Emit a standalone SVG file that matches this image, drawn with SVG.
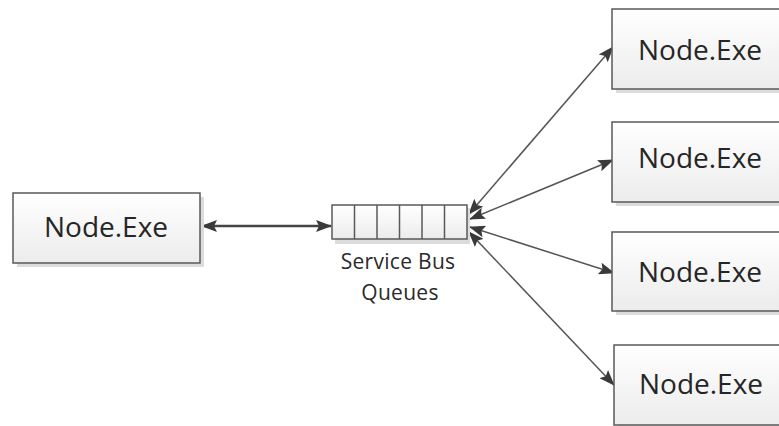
<svg xmlns="http://www.w3.org/2000/svg" width="779" height="426" viewBox="0 0 779 426">
<defs>
<linearGradient id="g" x1="0" y1="0" x2="0" y2="1">
<stop offset="0" stop-color="#ffffff"/>
<stop offset="1" stop-color="#ececec"/>
</linearGradient>
<marker id="ah" viewBox="0 0 16 12" refX="15" refY="6" markerWidth="16" markerHeight="12" markerUnits="userSpaceOnUse" orient="auto-start-reverse">
<path d="M0,0 L16,6 L0,12 L3,6 Z" fill="#3a3a3a"/>
</marker>
</defs>
<style>
.box{fill:url(#g);stroke:#595959;stroke-width:1.5}
.sh{fill:#dcdcdc}
.t{font-family:"Open Sans","Noto Sans",sans-serif;font-size:28px;fill:#262626;text-anchor:middle}
.lbl{font-family:"Open Sans","Noto Sans",sans-serif;font-size:21px;fill:#2a2a2a;text-anchor:middle;letter-spacing:0.3px}
.c{fill:none;stroke:#555;stroke-width:1.5;marker-start:url(#ah);marker-end:url(#ah)}
.cell{stroke:#595959;stroke-width:1.5}
</style>
<rect width="779" height="426" fill="#fff"/>
<g id="connectors">
<line class="c" x1="202" y1="226" x2="331" y2="226" style="stroke-width:2.4;stroke:#454545"/>
<line class="c" x1="469" y1="214" x2="613" y2="47"/>
<line class="c" x1="470" y1="219" x2="613" y2="160"/>
<line class="c" x1="470" y1="227" x2="614" y2="273"/>
<line class="c" x1="469" y1="232" x2="614" y2="385"/>
</g>
<g id="node-left">
<rect class="sh" x="17" y="197" width="187" height="70"/>
<rect class="box" x="13" y="193" width="187" height="70"/>
<text class="t" x="106" y="237">Node.Exe</text>
</g>
<g id="queue">
<rect class="sh" x="335" y="208" width="135" height="36"/>
<rect class="box" x="332" y="205" width="135" height="34"/>
<line class="cell" x1="354.5" y1="205" x2="354.5" y2="239"/>
<line class="cell" x1="377" y1="205" x2="377" y2="239"/>
<line class="cell" x1="399.5" y1="205" x2="399.5" y2="239"/>
<line class="cell" x1="422" y1="205" x2="422" y2="239"/>
<line class="cell" x1="444.5" y1="205" x2="444.5" y2="239"/>
<text class="lbl" x="398" y="269">Service Bus</text>
<text class="lbl" x="400" y="300">Queues</text>
</g>
<g id="node-r1">
<rect class="sh" x="616" y="13" width="180" height="80"/>
<rect class="box" x="612" y="9" width="180" height="80"/>
<text class="t" x="700" y="60">Node.Exe</text>
</g>
<g id="node-r2">
<rect class="sh" x="616" y="126" width="180" height="80"/>
<rect class="box" x="612" y="122" width="180" height="80"/>
<text class="t" x="700" y="168">Node.Exe</text>
</g>
<g id="node-r3">
<rect class="sh" x="616" y="236" width="180" height="79"/>
<rect class="box" x="612" y="232" width="180" height="79"/>
<text class="t" x="700" y="282">Node.Exe</text>
</g>
<g id="node-r4">
<rect class="sh" x="618" y="349" width="180" height="80"/>
<rect class="box" x="614" y="345" width="180" height="80"/>
<text class="t" x="701" y="394">Node.Exe</text>
</g>
</svg>
